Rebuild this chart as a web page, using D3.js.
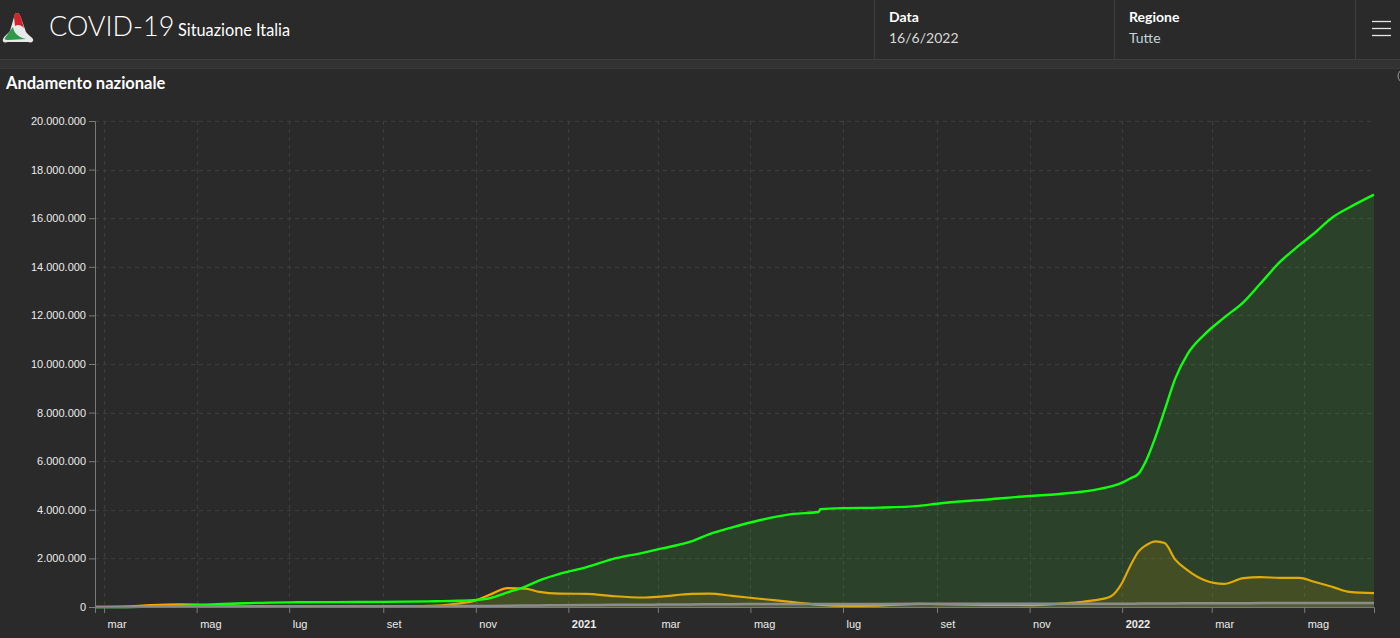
<!DOCTYPE html>
<html>
<head>
<meta charset="utf-8">
<script src="https://cdn.jsdelivr.net/npm/d3@7"></script>
<style>
  body { margin: 0; background: #2a2a2a; overflow: hidden; }
  svg { display: block; font-family: Lato, "Open Sans", sans-serif; }
  .tick text { font-family: "Liberation Sans", Arial, sans-serif; font-size: 11px; fill: #ececec; }
</style>
</head>
<body>
<svg id="dashboard"></svg>
<script>
// data (values in millions of persons)
const dates = ["2020-02-24","2020-03-15","2020-04-01","2020-04-20","2020-05-01","2020-05-18","2020-06-01","2020-07-01","2020-08-01","2020-09-01","2020-10-01","2020-10-10","2020-10-20","2020-11-01","2020-11-10","2020-11-22","2020-12-04","2020-12-13","2020-12-26","2021-01-13","2021-01-30","2021-02-19","2021-03-03","2021-03-23","2021-04-04","2021-04-19","2021-05-07","2021-05-29","2021-06-15","2021-06-16","2021-07-01","2021-07-25","2021-08-20","2021-09-01","2021-10-03","2021-11-01","2021-11-19","2021-12-04","2021-12-12","2021-12-24","2022-01-01","2022-01-06","2022-01-12","2022-01-17","2022-01-23","2022-01-29","2022-02-05","2022-02-13","2022-02-24","2022-03-09","2022-03-22","2022-04-02","2022-04-15","2022-04-28","2022-05-07","2022-05-20","2022-05-31","2022-06-16"];

// dimessi guariti
const guariti = [0,0.002,0.016,0.045,0.075,0.125,0.157,0.19,0.2,0.21,0.232,0.24,0.255,0.29,0.36,0.6,0.85,1.1,1.36,1.64,1.97,2.23,2.4,2.7,3.0,3.28,3.57,3.83,3.91,4.02,4.07,4.09,4.16,4.25,4.42,4.57,4.64,4.73,4.8,4.95,5.12,5.28,5.5,6.05,7.0,8.1,9.4,10.4,11.2,11.9,12.55,13.3,14.2,14.9,15.35,16.05,16.45,16.97];

// attualmente positivi
const positivi = [0,0.02,0.08,0.108,0.1,0.066,0.042,0.015,0.012,0.027,0.05,0.07,0.14,0.27,0.5,0.78,0.75,0.62,0.55,0.54,0.45,0.39,0.43,0.54,0.55,0.46,0.34,0.2,0.09,0.085,0.045,0.06,0.13,0.12,0.09,0.08,0.13,0.2,0.26,0.42,1.0,1.65,2.3,2.55,2.7,2.63,1.95,1.52,1.11,0.95,1.19,1.23,1.2,1.2,1.05,0.82,0.62,0.57];

// deceduti
const deceduti = [0,0.002,0.013,0.024,0.028,0.032,0.033,0.035,0.035,0.036,0.036,0.036,0.037,0.039,0.042,0.049,0.059,0.065,0.071,0.08,0.088,0.095,0.099,0.106,0.111,0.117,0.122,0.126,0.127,0.127,0.128,0.128,0.129,0.13,0.131,0.132,0.133,0.134,0.135,0.136,0.137,0.138,0.14,0.142,0.144,0.146,0.149,0.151,0.154,0.156,0.158,0.16,0.161,0.163,0.164,0.166,0.167,0.168];

const yTicks = [0,2000000,4000000,6000000,8000000,10000000,12000000,14000000,16000000,18000000,20000000];
const xTickDates = ["2020-03-01","2020-05-01","2020-07-01","2020-09-01","2020-11-01","2021-01-01","2021-03-01","2021-05-01","2021-07-01","2021-09-01","2021-11-01","2022-01-01","2022-03-01","2022-05-01"];
const xTickLabels = ["mar","mag","lug","set","nov","2021","mar","mag","lug","set","nov","2022","mar","mag"];

const W = 1400, H = 638;
const margin = {top: 121, right: 26, bottom: 31, left: 95},
  width = W - margin.left - margin.right,
  height = H - margin.top - margin.bottom;

const parse = d3.timeParse("%Y-%m-%d");
const rows = dates.map((d, i) => ({
    date: parse(d),
    guariti: guariti[i] * 1e6,
    positivi: positivi[i] * 1e6,
    deceduti: deceduti[i] * 1e6
}));

const root = d3.select("#dashboard")
    .attr("width", W)
    .attr("height", H);

// ---- header ----
root.append("rect").attr("width", W).attr("height", H).attr("fill", "#2a2a2a");
root.append("rect").attr("x", 0).attr("y", 59).attr("width", W).attr("height", 9).attr("fill", "#323232");
root.append("line").attr("x1", 0).attr("x2", W).attr("y1", 59.5).attr("y2", 59.5).attr("stroke", "#3e3e3e");
root.append("line").attr("x1", 0).attr("x2", W).attr("y1", 68.5).attr("y2", 68.5).attr("stroke", "#3a3a3a");

[874.5, 1114.5, 1355.5].forEach(x => {
    root.append("line").attr("x1", x).attr("x2", x).attr("y1", 0).attr("y2", 59)
        .attr("stroke", "#3e3e3e");
});

// logo
const logo = root.append("g").attr("transform", "translate(2,12)");
logo.append("path")
    .attr("d", "M15,1 C17,1 18,3 19,6 L24,20 C26,23 30,25 31,27 C32,30 29,31 26,30 L6,30 C2,31 0,30 1,27 C2,24 6,22 8,19 L12,5 C13,2 13,1 15,1 Z")
    .attr("fill", "#e9e9e9");
logo.append("path")
    .attr("d", "M15,1 C17,1 18,3 19,6 L22,16 C19,13 16,12 13,14 L12,5 C13,2 13,1 15,1 Z")
    .attr("fill", "#d2242a");
logo.append("path")
    .attr("d", "M8,19 L11,15 C12,21 16,25 24,27 L6,28 C3,28 2,27 3,26 C4,24 6,22 8,19 Z")
    .attr("fill", "#2c9a47");

root.append("text").attr("x", 49).attr("y", 36)
    .attr("fill", "#ffffff").attr("font-size", 27).attr("font-weight", 300)
    .text("COVID-19");
root.append("text").attr("x", 178).attr("y", 36)
    .attr("fill", "#ffffff").attr("font-size", 16.3)
    .text("Situazione Italia");

root.append("text").attr("x", 889).attr("y", 22)
    .attr("fill", "#ffffff").attr("font-size", 14).attr("font-weight", 700).text("Data");
root.append("text").attr("x", 889).attr("y", 43)
    .attr("fill", "#d8d8d8").attr("font-size", 14).text("16/6/2022");
root.append("text").attr("x", 1129).attr("y", 22)
    .attr("fill", "#ffffff").attr("font-size", 14).attr("font-weight", 700).text("Regione");
root.append("text").attr("x", 1129).attr("y", 43)
    .attr("fill", "#c4d4dc").attr("font-size", 14).text("Tutte");

[21, 28, 35].forEach(y => {
    root.append("line").attr("x1", 1372).attr("x2", 1391).attr("y1", y + 0.5).attr("y2", y + 0.5)
        .attr("stroke", "#e6e6e6").attr("stroke-width", 1.3);
});

root.append("circle").attr("cx", 1405).attr("cy", 76).attr("r", 7)
    .attr("fill", "none").attr("stroke", "#9a9a9a");

root.append("text").attr("x", 6).attr("y", 89)
    .attr("fill", "#ffffff").attr("font-size", 16.5).attr("font-weight", 700)
    .text("Andamento nazionale");

// ---- chart ----
const svg = root.append("g")
    .attr("transform", `translate(${margin.left},${margin.top})`);

const x = d3.scaleTime()
    .domain([parse("2020-02-24"), parse("2022-06-16")])
    .range([0, width]);

const y = d3.scaleLinear()
    .domain([0, 20000000])
    .range([height, 0]);

const it = d3.formatLocale({decimal: ",", thousands: ".", grouping: [3], currency: ["€", ""]});
const fmt = it.format(",");

const tickDates = xTickDates.map(parse);

// grid
svg.append("g")
    .selectAll("line")
    .data(yTicks.slice(1))
    .join("line")
        .attr("x1", 0).attr("x2", width)
        .attr("y1", d => Math.round(y(d)) + 0.5).attr("y2", d => Math.round(y(d)) + 0.5)
        .attr("stroke", "#3f3f3f").attr("stroke-dasharray", "4,4");

svg.append("g")
    .selectAll("line")
    .data(tickDates)
    .join("line")
        .attr("x1", d => Math.round(x(d)) + 0.5).attr("x2", d => Math.round(x(d)) + 0.5)
        .attr("y1", 0).attr("y2", height)
        .attr("stroke", "#3f3f3f").attr("stroke-dasharray", "4,4");

const area = key => d3.area()
    .x(d => x(d.date))
    .y0(y(0))
    .y1(d => y(d[key]))
    .curve(d3.curveMonotoneX);

const line = key => d3.line()
    .x(d => x(d.date))
    .y(d => y(d[key]))
    .curve(d3.curveMonotoneX);

// attualmente positivi
svg.append("path").datum(rows)
    .attr("d", area("positivi"))
    .attr("fill", "rgba(255,165,0,0.13)");
svg.append("path").datum(rows)
    .attr("d", line("positivi"))
    .attr("fill", "none").attr("stroke", "#ffa500").attr("stroke-width", 2.2);

// dimessi guariti
svg.append("path").datum(rows)
    .attr("d", area("guariti"))
    .attr("fill", "rgba(60,200,40,0.15)");
svg.append("path").datum(rows)
    .attr("d", line("guariti"))
    .attr("fill", "none").attr("stroke", "#10ff10").attr("stroke-width", 2.4);

// deceduti
svg.append("path").datum(rows)
    .attr("d", area("deceduti"))
    .attr("fill", "rgba(150,150,150,0.2)");
svg.append("path").datum(rows)
    .attr("d", line("deceduti"))
    .attr("fill", "none").attr("stroke", "#8c8c8c").attr("stroke-width", 2.5);

// axes
const xAxis = svg.append("g")
    .attr("transform", `translate(0,${height})`)
    .call(d3.axisBottom(x)
        .tickValues(tickDates)
        .tickSize(6)
        .tickFormat((d, i) => xTickLabels[i]));
xAxis.selectAll(".tick text")
    .attr("text-anchor", "start")
    .attr("x", 3)
    .attr("dy", "1.1em")
    .attr("font-weight", (d, i) => /^\d/.test(xTickLabels[i]) ? 700 : 400);

const yAxis = svg.append("g")
    .call(d3.axisLeft(y)
        .tickValues(yTicks)
        .tickSize(6)
        .tickFormat(fmt));

[xAxis, yAxis].forEach(g => {
    g.select(".domain").attr("stroke", "#7a7a7a");
    g.selectAll(".tick line").attr("stroke", "#7a7a7a");
});
</script>
</body>
</html>
